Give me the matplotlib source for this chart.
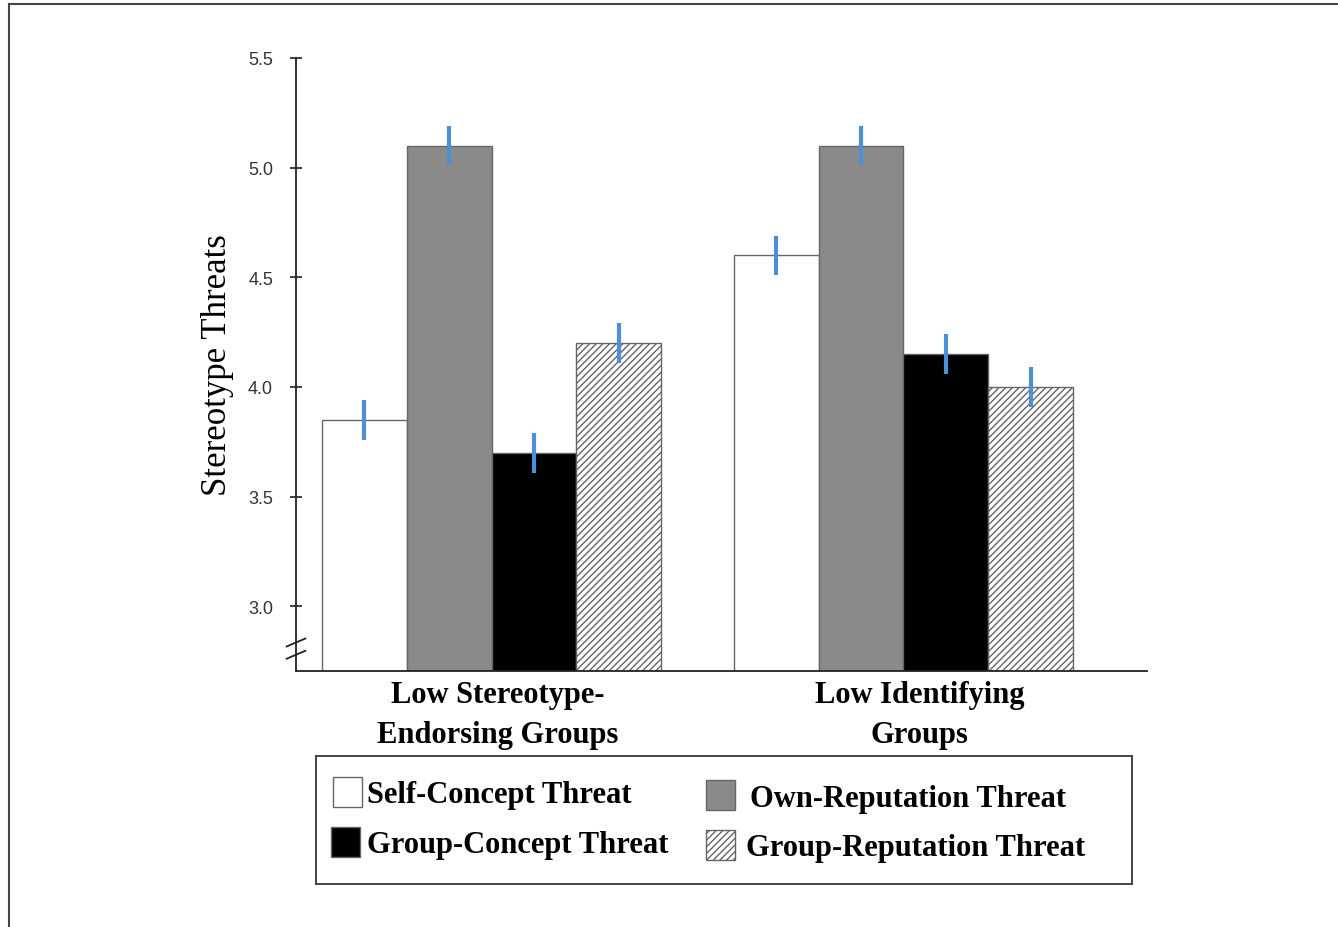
import matplotlib
matplotlib.use('Agg')
import matplotlib.pyplot as plt
import matplotlib.transforms as mtransforms
from matplotlib.patches import Rectangle
from matplotlib.lines import Line2D
import numpy as np

groups = ['Low Stereotype-\nEndorsing Groups', 'Low Identifying\nGroups']
series = ['Self-Concept Threat', 'Own-Reputation Threat',
          'Group-Concept Threat', 'Group-Reputation Threat']
values = {
    'Self-Concept Threat': [3.85, 4.60],
    'Own-Reputation Threat': [5.10, 5.10],
    'Group-Concept Threat': [3.70, 4.15],
    'Group-Reputation Threat': [4.20, 4.00],
}
errors = {
    'Self-Concept Threat': [0.09, 0.09],
    'Own-Reputation Threat': [0.09, 0.09],
    'Group-Concept Threat': [0.09, 0.09],
    'Group-Reputation Threat': [0.09, 0.09],
}
yticks = [3.0, 3.5, 4.0, 4.5, 5.0, 5.5]

styles = {
    'Self-Concept Threat': dict(color='white', hatch=None),
    'Own-Reputation Threat': dict(color='#8a8a8a', hatch=None),
    'Group-Concept Threat': dict(color='black', hatch=None),
    'Group-Reputation Threat': dict(color='white', hatch='/////'),
}
edge = '#666666'

W, H = 1338, 928
fig = plt.figure(figsize=(W / 100, H / 100), dpi=100)
ax = fig.add_axes([296 / W, 1 - 672 / H, (1147 - 296) / W, (672 - 59) / H])

serif = ['Liberation Serif', 'DejaVu Serif']
plt.rcParams['hatch.color'] = '#a0a0a0'
plt.rcParams['hatch.linewidth'] = 1.0

bar_w = 1.0
group_gap = 4.86
centers = np.arange(len(groups)) * group_gap
for i, s in enumerate(series):
    x = centers + (i - 1.5) * bar_w
    st = styles[s]
    ax.bar(x, values[s], width=bar_w, bottom=0, color=st['color'],
           hatch=st['hatch'], edgecolor=edge, linewidth=1.0, zorder=2)
    ax.errorbar(x, values[s], yerr=errors[s], fmt='none', ecolor='#4f8fd6',
                elinewidth=3, capsize=0, zorder=3)

ax.set_xlim(-2.307, 7.733)
ax.set_ylim(2.705, 5.5)
ax.set_yticks(yticks)
ax.set_yticklabels([f'{t:.1f}' for t in yticks], fontsize=13,
                   family=['Liberation Sans', 'DejaVu Sans'], color='#333333')
ax.tick_params(axis='y', direction='inout', length=9, width=1.2, color='#222222', pad=12)
ax.set_xticks([])
ax.spines['top'].set_visible(False)
ax.spines['right'].set_visible(False)
for sp in ('left', 'bottom'):
    ax.spines[sp].set_linewidth(1.3)
    ax.spines[sp].set_color('#222222')

ax.set_ylabel('Stereotype Threats', fontsize=25, family=serif, labelpad=10)

# group labels under the axis
label_shift = [0.07, 0.19]
trans = mtransforms.blended_transform_factory(ax.transData, ax.transAxes)
for c, g, d in zip(centers, groups, label_shift):
    ax.text(c + d, -0.014, g, transform=trans, ha='center', va='top',
            fontsize=22, family=serif, fontweight='bold', linespacing=1.5)

# axis break marks
for dy in (0.02, 0.04):
    ax.add_line(Line2D([-0.011, 0.011], [dy, dy + 0.013], transform=ax.transAxes,
                       color='#222222', lw=1.3, clip_on=False))

# legend box drawn by hand
fig.add_artist(Rectangle((316 / W, 1 - 885 / H), (1132 - 316) / W, (885 - 757) / H,
                         transform=fig.transFigure, facecolor='white',
                         edgecolor='#444444', linewidth=1.4))
legend_items = [
    ('Self-Concept Threat', 333, 793, 367),
    ('Group-Concept Threat', 331, 843, 367),
    ('Own-Reputation Threat', 706, 796, 750),
    ('Group-Reputation Threat', 706, 846, 746),
]
for s, px, py, tx in legend_items:
    st = styles[s]
    fig.add_artist(Rectangle((px / W, 1 - (py + 15) / H), 29 / W, 30 / H,
                             transform=fig.transFigure, facecolor=st['color'],
                             hatch=st['hatch'], edgecolor=edge, linewidth=1.0))
    fig.text(tx / W, 1 - (py + 3) / H, s, ha='left', va='center', fontsize=22,
             family=serif, fontweight='bold')

# page frame lines (top and left)
fig.add_artist(Line2D([9 / W, 1], [1 - 5 / H, 1 - 5 / H], color='#444444', lw=1.5))
fig.add_artist(Line2D([9 / W, 9 / W], [0, 1 - 5 / H], color='#444444', lw=1.5))

fig.savefig('out.png', dpi=100)
